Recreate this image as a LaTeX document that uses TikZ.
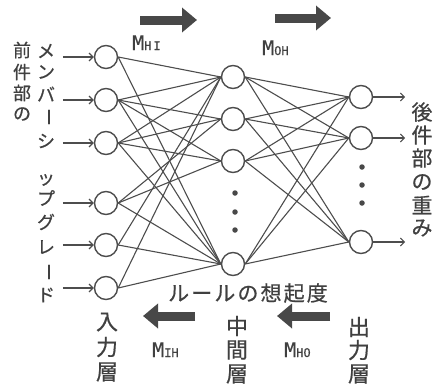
\documentclass[tikz,border=0pt]{standalone}
\usepackage{fontspec}
\newfontfamily\jpv[FakeBold=0.6]{Noto Sans CJK JP}
\newfontfamily\jpsp[LetterSpace=10,FakeBold=0.6]{Noto Sans CJK JP}
\newfontfamily\monof[FakeBold=0.5]{DejaVu Sans Mono}
\usetikzlibrary{arrows.meta}
\definecolor{linegray}{HTML}{4D4D4D}
\definecolor{fatgray}{HTML}{484848}
\definecolor{txtgray}{HTML}{404040}
\begin{document}
\begin{tikzpicture}[x=1pt,y=-1pt,
  neuron/.style={circle,draw=linegray,line width=1.4pt,minimum size=23pt,inner sep=0pt},
  link/.style={draw=linegray,line width=1.1pt},
  thinarrow/.style={draw=linegray,line width=1.1pt,-{Straight Barb[length=4pt,width=8pt]}},
  fat/.style={draw=fatgray,line width=9pt,-{Triangle[length=15pt,width=24pt]}},
  dotmark/.style={circle,fill=fatgray,inner sep=0pt,minimum size=5.5pt},
  smallv/.style={text=txtgray,inner sep=0pt,font=\jpv\fontsize{18}{18}\selectfont},
  barv/.style={smallv,rotate=-90},
  bigv/.style={text=txtgray,inner sep=0pt,font=\jpv\fontsize{21}{21}\selectfont},
  layerv/.style={text=txtgray,inner sep=0pt,font=\jpv\fontsize{22}{22}\selectfont},
  mlabel/.style={text=txtgray,inner sep=0pt,anchor=base west,font=\monof\fontsize{20}{20}\selectfont}]
\useasboundingbox (0,0) rectangle (440,388);
% input layer
\foreach \yy [count=\i] in {57,100,143,203,245,288}
  \node[neuron] (i\i) at (106,\yy) {};
% hidden layer
\foreach \yy [count=\i] in {77,119,161,264}
  \node[neuron] (m\i) at (233,\yy) {};
% output layer
\foreach \yy [count=\i] in {97,138,242}
  \node[neuron] (o\i) at (361,\yy) {};
% input -> hidden links
\foreach \a/\b in {1/1,1/4,2/1,2/2,2/3,2/4,3/1,3/2,3/3,3/4,4/2,4/3,4/4,5/1,5/4,6/1,6/4}
  \draw[link] (i\a.east) -- (m\b.west);
% hidden -> output links
\foreach \a in {1,2,3,4}
  \foreach \b in {1,2,3}
    \draw[link] (m\a.east) -- (o\b.west);
% ellipsis dots
\node[dotmark] (hd1) at (235,193) {};
\node[dotmark] (hd2) at (235,212) {};
\node[dotmark] (hd3) at (235,230) {};
\node[dotmark] (od1) at (362,167) {};
\node[dotmark] (od2) at (362,185) {};
\node[dotmark] (od3) at (362,203) {};
% input arrows
\foreach \i in {1,...,6} {
  \coordinate (is\i) at ([xshift=-31pt]i\i.west);
  \draw[thinarrow] (is\i) -- (i\i.west);
}
% output arrows
\foreach \i in {1,2,3} {
  \coordinate (oe\i) at ([xshift=32pt]o\i.east);
  \draw[thinarrow] (o\i.east) -- (oe\i);
}
% fat arrows
\coordinate (fa1s) at (140,20);  \coordinate (fa1e) at (197,20);
\coordinate (fa2s) at (275,18);  \coordinate (fa2e) at (331,18);
\coordinate (fa3s) at (195,316); \coordinate (fa3e) at (143,316);
\coordinate (fa4s) at (330,316); \coordinate (fa4e) at (277,316);
\draw[fat] (fa1s) -- (fa1e);
\draw[fat] (fa2s) -- (fa2e);
\draw[fat] (fa3s) -- (fa3e);
\draw[fat] (fa4s) -- (fa4e);
% matrix labels
\node[mlabel] (mhi) at (132,50) {M{\fontsize{12}{12}\selectfont H\,I}};
\node[mlabel] (moh) at (262,55) {M{\fontsize{12}{12}\selectfont OH}};
\node[mlabel] (mih) at (152,357) {M{\fontsize{12}{12}\selectfont IH}};
\node[mlabel] (mho) at (284,357) {M{\fontsize{12}{12}\selectfont HO}};
% left vertical texts
\foreach \c/\yy [count=\i] in {前/50,件/72,部/93,の/114}
  \node[smallv] (za\i) at (22,\yy) {\c};
\foreach \c/\yy [count=\i] in {メ/51,ン/72,バ/94}
  \node[smallv] (zb\i) at (46,\yy) {\c};
\node[barv] (zb4) at (46,117) {ー};
\foreach \c/\yy [count=\i from 5] in {シ/141,ッ/180,プ/198,グ/222,レ/247}
  \node[smallv] (zb\i) at (46,\yy) {\c};
\node[barv] (zb10) at (46,272) {ー};
\node[smallv] (zb11) at (46,295) {ド};
% right vertical text
\foreach \c/\yy [count=\i] in {後/112,件/135,部/158,の/182,重/205,み/228}
  \node[bigv] (zc\i) at (422,\yy) {\c};
% layer names
\foreach \c/\yy [count=\i] in {入/322,力/347,層/372}
  \node[layerv] (li\i) at (107,\yy) {\c};
\foreach \c/\yy [count=\i] in {中/326,間/350,層/374}
  \node[layerv] (lm\i) at (237,\yy) {\c};
\foreach \c/\yy [count=\i] in {出/327,力/350,層/374}
  \node[layerv] (lo\i) at (359,\yy) {\c};
% rule recall label
\node[text=txtgray,inner sep=0pt,font=\jpsp\fontsize{21}{21}\selectfont] (recall) at (248,293) {ルールの想起度};
\end{tikzpicture}
\end{document}
